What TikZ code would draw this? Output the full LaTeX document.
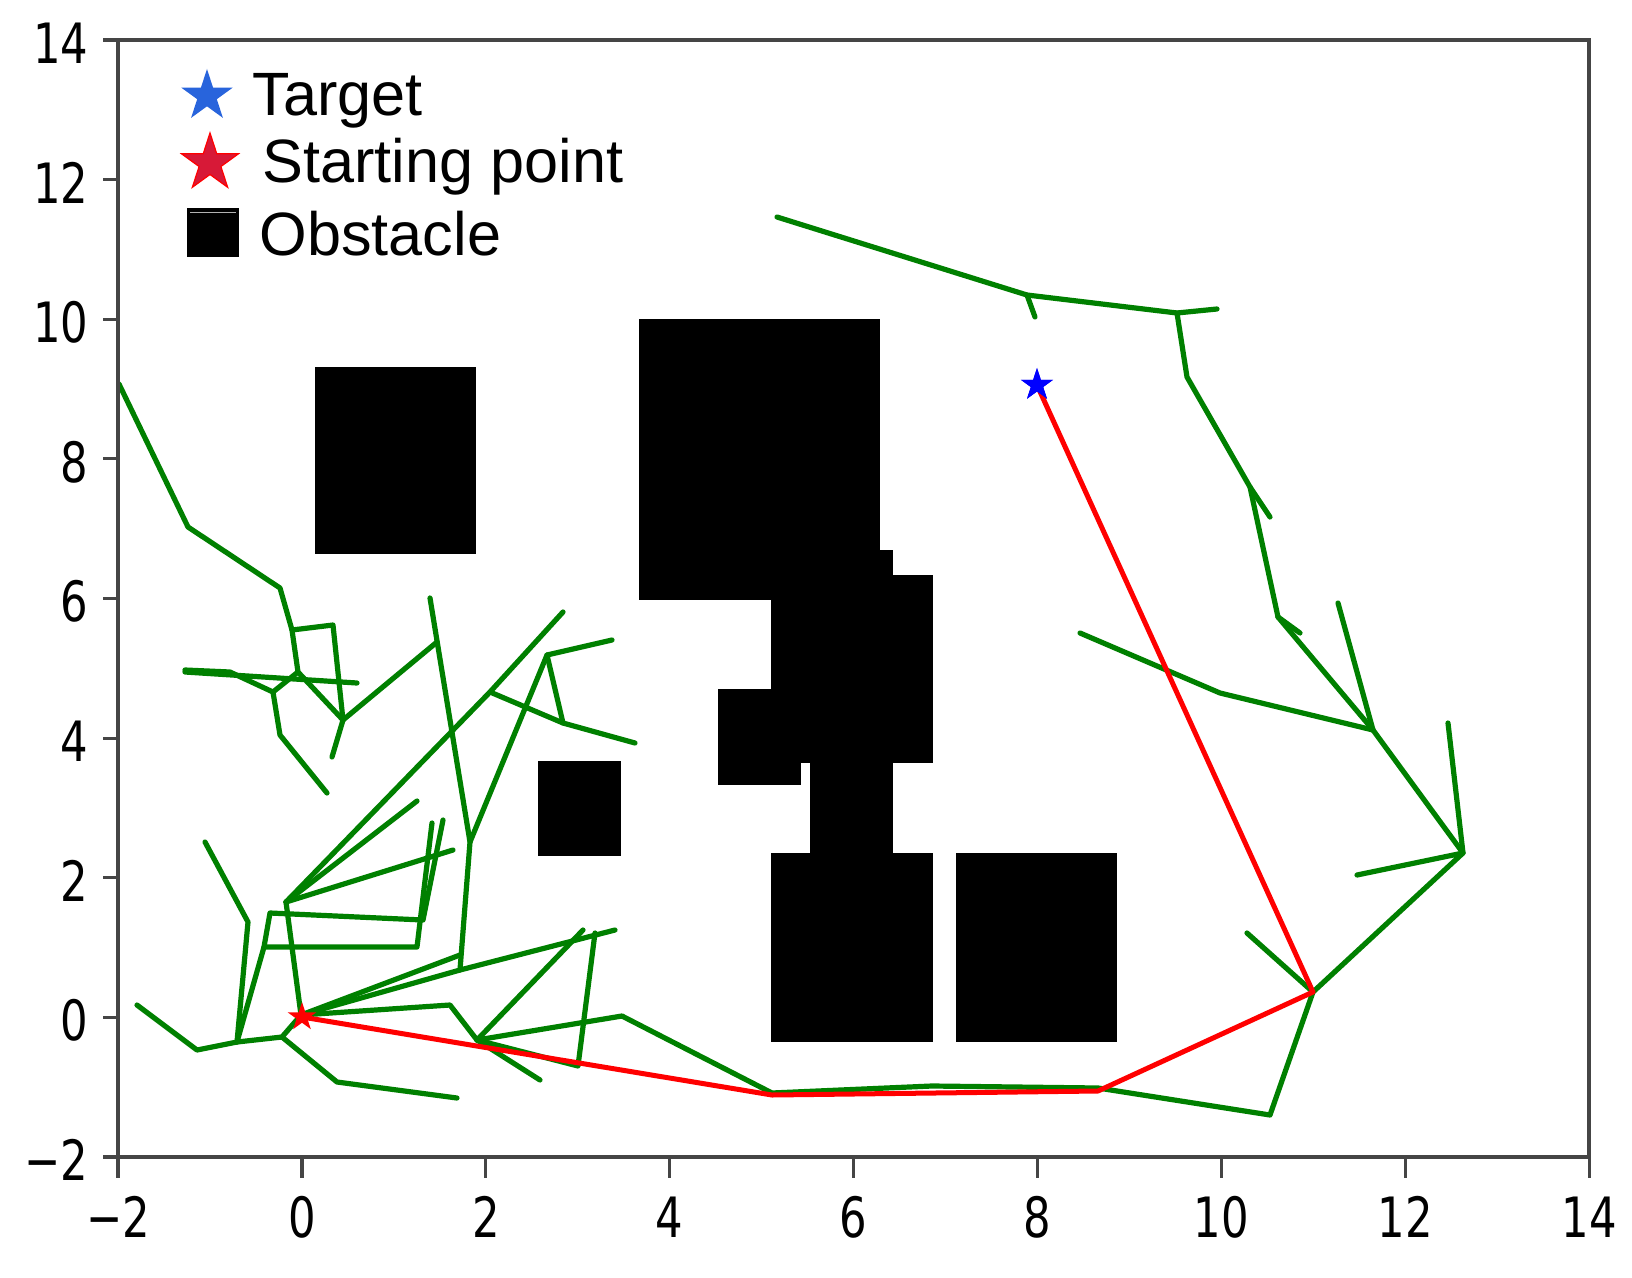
\documentclass[tikz,border=0pt]{standalone}
\usepackage{fontspec}
\usepackage{graphicx}
\setmainfont{Liberation Sans}
\newfontfamily\tickfont{DejaVu Sans}
\usetikzlibrary{shapes.geometric}
\definecolor{mplgreen}{rgb}{0,0.5,0}
\definecolor{axgray}{gray}{0.27}
\definecolor{legblue}{RGB}{40,100,220}
\definecolor{legred}{RGB}{215,25,55}
\begin{document}
\begin{tikzpicture}[x=0.01cm,y=-0.01cm,
  tree/.style={mplgreen,line width=0.052cm,line join=round,line cap=round},
  route/.style={red,line width=0.05cm,line join=round,line cap=round},
  obst/.style={fill=black,draw=none},
  axisline/.style={axgray,line width=0.032cm},
  ticklab/.style={font=\tickfont\fontsize{15.8}{16}\selectfont,inner sep=0},
  legtext/.style={font=\fontsize{17.4}{20}\selectfont,anchor=base west,inner sep=0},
  starmark/.style={star,star points=5,star point ratio=2.618,inner sep=0,draw=none}
]
\useasboundingbox[fill=white] (0,0) rectangle (1632,1278);

% obstacles
\fill[obst] (315,367) rectangle (476,554);
\fill[obst] (639,319) rectangle (880,600);
\fill[obst] (771,550) rectangle (893,763);
\fill[obst] (771,575) rectangle (933,763);
\fill[obst] (718,689) rectangle (801,785);
\fill[obst] (810,763) rectangle (893,853);
\fill[obst] (771,853) rectangle (933,1042);
\fill[obst] (956,853) rectangle (1117,1042);
\fill[obst] (538,761) rectangle (621,856);

% exploration tree
\draw[tree] (119,384) -- (188,527) -- (280,588) -- (292,630) -- (298,672) -- (343,720);
\draw[tree] (292,630) -- (333,625) -- (343,720) -- (332,757);
\draw[tree] (343,720) -- (437,642);
\draw[tree] (298,672) -- (273,692) -- (280,735) -- (327,793);
\draw[tree] (185,670) -- (230,672) -- (273,692);
\draw[tree] (185,672) -- (357,683);
\draw[tree] (430,598) -- (470,842) -- (460,970);
\draw[tree] (470,842) -- (547,655) -- (612,640);
\draw[tree] (547,655) -- (563,723);
\draw[tree] (490,692) -- (563,723) -- (635,743);
\draw[tree] (286,902) -- (490,692) -- (563,612);
\draw[tree] (286,902) -- (417,801);
\draw[tree] (286,902) -- (453,850);
\draw[tree] (286,902) -- (301,1015);
\draw[tree] (301,1015) -- (460,955);
\draw[tree] (301,1015) -- (460,970) -- (615,930);
\draw[tree] (583,930) -- (477,1040);
\draw[tree] (301,1015) -- (450,1005) -- (477,1040);
\draw[tree] (477,1040) -- (622,1016) -- (772,1093) -- (932,1086) -- (1098,1088) -- (1270,1115) -- (1313,992);
\draw[tree] (477,1040) -- (540,1080);
\draw[tree] (477,1040) -- (578,1066) -- (595,933);
\draw[tree] (205,842) -- (248,922) -- (237,1042);
\draw[tree] (137,1005) -- (197,1050) -- (237,1042) -- (282,1037) -- (301,1015);
\draw[tree] (282,1037) -- (337,1082) -- (457,1098);
\draw[tree] (237,1042) -- (264,947) -- (270,913) -- (423,920) -- (443,820);
\draw[tree] (264,947) -- (417,947) -- (432,823);
\draw[tree] (777,217) -- (1027,295) -- (1177,313) -- (1217,309);
\draw[tree] (1027,295) -- (1035,317);
\draw[tree] (1177,313) -- (1187,377) -- (1250,487) -- (1278,617) -- (1373,730) -- (1463,853);
\draw[tree] (1250,487) -- (1270,517);
\draw[tree] (1278,617) -- (1300,633);
\draw[tree] (1338,603) -- (1373,730);
\draw[tree] (1080,633) -- (1220,693) -- (1373,730);
\draw[tree] (1448,723) -- (1463,853);
\draw[tree] (1357,875) -- (1463,853) -- (1313,992) -- (1247,933);

% path found
\node[starmark,minimum size=0.34cm,fill=blue] (target) at (1037,385) {};
\coordinate (start) at (302,1017);
\draw[route] (start) -- (772,1095) -- (1098,1091) -- (1313,992) -- (target.center);
\node[starmark,minimum size=0.30cm,fill=red] (startmark) at (start) {};
\node[starmark,minimum size=0.34cm,fill=blue] (target2) at (1037,385) {};

% axes frame and ticks
\draw[axisline] (118,40) rectangle (1589,1157);
\foreach \v/\t in {-2/−2,0/0,2/2,4/4,6/6,8/8,10/10,12/12,14/14} {
  \draw[axisline] ({118+(\v+2)*91.95},1157) -- ++(0,21);
  \node[ticklab] (xl\v) at ({118+(\v+2)*91.95},1217) {\scalebox{0.78}[1]{\t}};
  \draw[axisline] (118,{40+(14-\v)*69.81}) -- ++(-15,0);
  \node[ticklab,anchor=east] (yl\v) at (89,{43+(14-\v)*69.81}) {\scalebox{0.78}[1]{\t}};
}

% legend
\node[starmark,minimum size=0.54cm,fill=legblue] (legT) at (207,96) {};
\node[starmark,minimum size=0.60cm,fill=legred,draw=red,line width=0.012cm] (legS) at (210,163) {};
\fill[black] (187,208) rectangle (239,257);
\draw[gray!60,line width=0.006cm] (190,212) -- (236,212);
\node[legtext] (tT) at (252,115) {Target};
\node[legtext] (tS) at (262,182) {Starting point};
\node[legtext] (tO) at (259,255) {Obstacle};
\end{tikzpicture}
\end{document}
